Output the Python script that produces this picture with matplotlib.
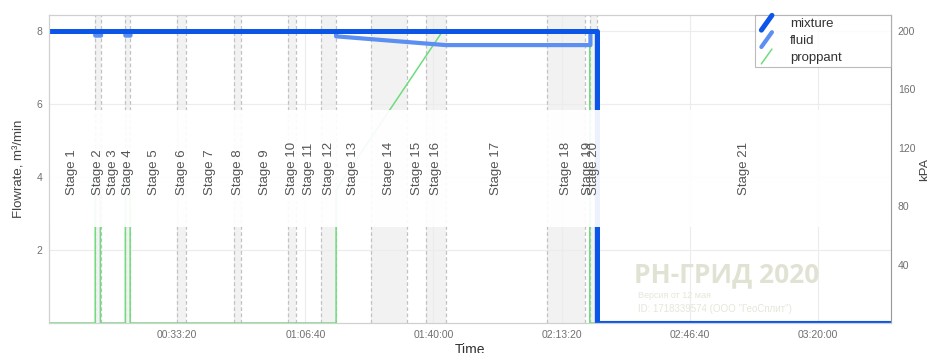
import matplotlib.pyplot as plt
from matplotlib.lines import Line2D
from matplotlib.legend_handler import HandlerBase
from matplotlib.ticker import FuncFormatter

# stage boundaries, seconds
stage_edges = [0, 720, 810, 1190, 1270, 2000, 2140, 2890, 3000, 3730, 3860,
               4250, 4480, 5020, 5580, 5890, 6190, 7770, 8360, 8450, 8550, 13140]
stage_names = ["Stage %d" % i for i in range(1, 22)]

# mixture flowrate, m3/min
mix_t = [0, 8550, 8550, 13140]
mix_q = [8.0, 8.0, 0.0, 0.0]

# fluid flowrate
fluid_t = [0, 720, 720, 810, 810, 1190, 1190, 1270, 1270, 4480, 4480, 6190,
           8450, 8450, 8550, 8550, 13140]
fluid_q = [8.0, 8.0, 7.88, 7.88, 8.0, 8.0, 7.88, 7.88, 8.0, 8.0, 7.86, 7.62,
           7.62, 8.0, 8.0, 0.0, 0.0]

# proppant
prop_t = [0, 720, 720, 800, 800, 1190, 1190, 1265, 1265, 4480, 4480, 6130,
          8440, 8440, 13140]
prop_q = [0.0, 0.0, 4.0, 4.0, 0.0, 0.0, 4.0, 4.0, 0.0, 0.0, 3.65, 7.97,
          7.97, 0.0, 0.0]


def hms(x, pos):
    x = int(round(x))
    return "%02d:%02d:%02d" % (x // 3600, x % 3600 // 60, x % 60)


class DiagHandler(HandlerBase):
    def create_artists(self, legend, orig, xd, yd, w, h, fs, trans):
        x0, y0 = -xd, -yd
        l = Line2D([x0 + w * 0.15, x0 + w * 0.65], [y0 - 2, y0 + h + 2],
                   color=orig.get_color(), lw=orig.get_linewidth(),
                   solid_capstyle="round", transform=trans)
        return [l]


plt.rcParams["font.family"] = ["Liberation Sans", "DejaVu Sans"]

fig = plt.figure(figsize=(9.27, 3.53), dpi=100)
ax = fig.add_axes([0.053, 0.085, 0.908, 0.873])
ax2 = ax.twinx()

# shaded even stages + dashed edges
for i in range(1, len(stage_edges) - 1):
    a, b = stage_edges[i], stage_edges[i + 1]
    if i % 2 == 1:
        ax.axvspan(a, b, color="#f2f2f2", lw=0, zorder=0)
    ax.axvline(a, color="#c2c2c2", lw=0.9, ls=(0, (3, 2)), zorder=1)

ax.plot(prop_t, prop_q, color="#6fdc7c", lw=1.1, zorder=2, label="proppant")
ax.plot(fluid_t, fluid_q, color="#5b8ff2", lw=3.0, zorder=2.2, label="fluid",
        solid_joinstyle="round")
ax.plot(mix_t, mix_q, color="#0b55e8", lw=3.6, zorder=2.4, label="mixture")

# label band fades the lines under the stage names
ax.axhspan(2.62, 5.85, color="white", alpha=0.93, lw=0, zorder=3)

for i, name in enumerate(stage_names):
    c = (stage_edges[i] + stage_edges[i + 1]) / 2
    ax.text(c, 3.5, name, rotation=90, ha="center", va="bottom",
            fontsize=9.5, color="#555555", zorder=4)

ax.set_xlim(0, 13140)
ax.set_ylim(0, 8.45)
ax2.set_ylim(0, 211)
ax.set_xticks([2000, 4000, 6000, 8000, 10000, 12000])
ax.xaxis.set_major_formatter(FuncFormatter(hms))
ax.set_yticks([2, 4, 6, 8])
ax2.set_yticks([40, 80, 120, 160, 200])
ax.grid(True, color="#ececec", lw=0.8, zorder=0)
ax.set_axisbelow(True)

for a in (ax, ax2):
    a.tick_params(length=0, labelsize=7.5, labelcolor="#707070", pad=5)
    for s in a.spines.values():
        s.set_color("#d0d0d0")
ax2.spines["right"].set_color("#9a9a9a")

ax.set_xlabel("Time", fontsize=10, color="#333333", labelpad=2)
ax.set_ylabel("Flowrate, m\u00b3/min", fontsize=9.5, color="#444444", labelpad=8)
ax2.set_ylabel("kPA", fontsize=9.5, color="#444444", labelpad=3)

h, l = ax.get_legend_handles_labels()
leg = ax2.legend(h[::-1], l[::-1], loc="upper left",
                 bbox_to_anchor=(0.8385, 0.5, 0.1615, 0.5), mode="expand",
                 borderaxespad=0, fontsize=9.5, frameon=True, fancybox=False,
                 edgecolor="#aaaaaa", handlelength=1.6, handletextpad=0.8,
                 labelspacing=0.35, borderpad=0.25,
                 handler_map={Line2D: DiagHandler()})
leg.get_frame().set_linewidth(0.8)
for t in leg.get_texts():
    t.set_color("#333333")
leg.set_zorder(10)

# watermark
ax.text(0.805, 0.155, "РН-ГРИД 2020", transform=ax.transAxes, ha="center",
        va="center", fontsize=19, fontweight="bold", family="Open Sans",
        color="#e2e2d4", zorder=1)
ax.text(0.7, 0.09, "Версия от 12 мая", transform=ax.transAxes, ha="left",
        va="center", fontsize=6.5, color="#e6e6da", zorder=1)
ax.text(0.7, 0.045, 'ID: 1718339574 (ООО "ГеоСплит")', transform=ax.transAxes,
        ha="left", va="center", fontsize=7, color="#e6e6da", zorder=1)

fig.savefig("out.png", dpi=100)
